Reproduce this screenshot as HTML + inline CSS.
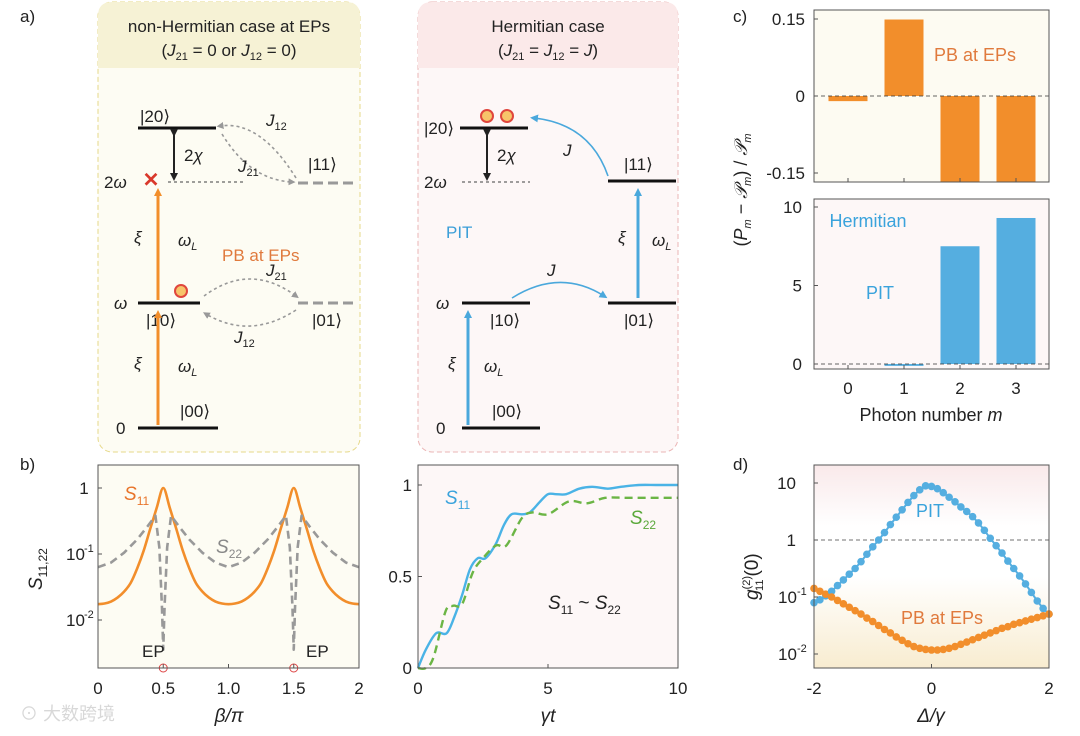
<!DOCTYPE html>
<html><head><meta charset="utf-8">
<style>
html,body{margin:0;padding:0;background:#fff;}
svg{display:block;font-family:"Liberation Sans","Noto Sans CJK SC",sans-serif;}
</style></head>
<body>
<svg id="fig" width="1080" height="736" viewBox="0 0 1080 736" xmlns="http://www.w3.org/2000/svg">
<defs>
<marker id="ahO" markerWidth="8" markerHeight="8" refX="4" refY="4" orient="auto" markerUnits="userSpaceOnUse"><path d="M0,0 L8,4 L0,8 z" fill="#f28e2b"/></marker>
<marker id="ahB" markerWidth="8" markerHeight="8" refX="4" refY="4" orient="auto" markerUnits="userSpaceOnUse"><path d="M0,0 L8,4 L0,8 z" fill="#4aa8dc"/></marker>
<marker id="ahK" markerWidth="8" markerHeight="8" refX="4" refY="4" orient="auto" markerUnits="userSpaceOnUse"><path d="M0,0 L8,4 L0,8 z" fill="#222"/></marker>
<marker id="ahG" markerWidth="7" markerHeight="7" refX="3.5" refY="3.5" orient="auto" markerUnits="userSpaceOnUse"><path d="M0,0 L7,3.5 L0,7 z" fill="#999"/></marker>
<linearGradient id="gd" x1="0" y1="0" x2="0" y2="1">
<stop offset="0" stop-color="#f9e9ea"/><stop offset="0.3" stop-color="#ffffff"/><stop offset="0.55" stop-color="#ffffff"/><stop offset="1" stop-color="#f8ecd0"/></linearGradient>
</defs>

<g>
<rect x="98" y="2" width="262" height="450" rx="14" fill="#fdfcf3" stroke="#e6d98a" stroke-dasharray="5,3"/>
<path d="M98,68 L98,16 Q98,2 112,2 L346,2 Q360,2 360,16 L360,68 Z" fill="#f6f2d5"/>
<rect x="418" y="2" width="260" height="450" rx="14" fill="#fdf7f7" stroke="#eab4b4" stroke-dasharray="5,3"/>
<path d="M418,68 L418,16 Q418,2 432,2 L664,2 Q678,2 678,16 L678,68 Z" fill="#fbe9e9"/>
<text x="20" y="22" font-size="17" fill="#222">a)</text>
<text x="229" y="32" font-size="17" text-anchor="middle" fill="#222">non-Hermitian case at EPs</text>
<text x="229" y="56" font-size="17" text-anchor="middle" fill="#222">(<tspan font-style="italic">J</tspan><tspan font-size="11" dy="4">21</tspan><tspan dy="-4"> = 0 or </tspan><tspan font-style="italic">J</tspan><tspan font-size="11" dy="4">12</tspan><tspan dy="-4"> = 0)</tspan></text>
<text x="548" y="32" font-size="17" text-anchor="middle" fill="#222">Hermitian case</text>
<text x="548" y="56" font-size="17" text-anchor="middle" fill="#222">(<tspan font-style="italic">J</tspan><tspan font-size="11" dy="4">21</tspan><tspan dy="-4"> = </tspan><tspan font-style="italic">J</tspan><tspan font-size="11" dy="4">12</tspan><tspan dy="-4"> = </tspan><tspan font-style="italic">J</tspan>)</text>

<g font-size="17" fill="#222">
<line x1="138" y1="128" x2="216" y2="128" stroke="#111" stroke-width="3"/>
<text x="140" y="122">|20⟩</text>
<line x1="168" y1="182" x2="246" y2="182" stroke="#666" stroke-width="1.2" stroke-dasharray="3,3"/>
<text x="104" y="188">2<tspan font-style="italic">ω</tspan></text>
<line x1="174" y1="133" x2="174" y2="177" stroke="#222" stroke-width="2" marker-start="url(#ahK)" marker-end="url(#ahK)"/>
<text x="184" y="161">2<tspan font-style="italic">χ</tspan></text>
<line x1="298" y1="183" x2="358" y2="183" stroke="#999" stroke-width="3" stroke-dasharray="10,5"/>
<text x="308" y="170">|11⟩</text>
<path d="M296,178 Q260,120 220,126" fill="none" stroke="#999" stroke-width="1.6" stroke-dasharray="3,3" marker-end="url(#ahG)"/>
<path d="M222,134 Q250,180 292,182" fill="none" stroke="#999" stroke-width="1.6" stroke-dasharray="3,3" marker-end="url(#ahG)"/>
<text x="266" y="126" font-style="italic">J<tspan font-size="11" dy="4" font-style="normal">12</tspan></text>
<text x="238" y="172" font-style="italic">J<tspan font-size="11" dy="4" font-style="normal">21</tspan></text>
<line x1="158" y1="300" x2="158" y2="192" stroke="#f28e2b" stroke-width="3" marker-end="url(#ahO)"/>
<text x="151" y="181" font-size="20" fill="#d9382b" text-anchor="middle" dominant-baseline="middle" font-weight="bold">✕</text>
<text x="134" y="243" font-style="italic">ξ</text>
<text x="178" y="246" font-style="italic">ω<tspan font-size="11" dy="4">L</tspan></text>
<text x="222" y="261" fill="#e07a3d">PB at EPs</text>
<line x1="138" y1="303" x2="200" y2="303" stroke="#111" stroke-width="3"/>
<text x="114" y="309" font-style="italic">ω</text>
<text x="146" y="326">|10⟩</text>
<circle cx="181" cy="291" r="6" fill="#f7c46a" stroke="#e0463d" stroke-width="2"/>
<line x1="298" y1="303" x2="358" y2="303" stroke="#999" stroke-width="3" stroke-dasharray="10,5"/>
<text x="312" y="326">|01⟩</text>
<path d="M204,296 Q250,262 296,296" fill="none" stroke="#999" stroke-width="1.6" stroke-dasharray="3,3" marker-end="url(#ahG)"/>
<path d="M296,310 Q250,340 206,314" fill="none" stroke="#999" stroke-width="1.6" stroke-dasharray="3,3" marker-end="url(#ahG)"/>
<text x="266" y="276" font-style="italic">J<tspan font-size="11" dy="4" font-style="normal">21</tspan></text>
<text x="234" y="343" font-style="italic">J<tspan font-size="11" dy="4" font-style="normal">12</tspan></text>
<line x1="158" y1="425" x2="158" y2="314" stroke="#f28e2b" stroke-width="3" marker-end="url(#ahO)"/>
<text x="134" y="369" font-style="italic">ξ</text>
<text x="178" y="372" font-style="italic">ω<tspan font-size="11" dy="4">L</tspan></text>
<line x1="138" y1="428" x2="218" y2="428" stroke="#111" stroke-width="3"/>
<text x="116" y="434">0</text>
<text x="180" y="417">|00⟩</text>
</g>

<g font-size="17" fill="#222">
<line x1="460" y1="128" x2="528" y2="128" stroke="#111" stroke-width="3"/>
<text x="424" y="134">|20⟩</text>
<circle cx="487" cy="116" r="6" fill="#f7c46a" stroke="#e0463d" stroke-width="2"/>
<circle cx="507" cy="116" r="6" fill="#f7c46a" stroke="#e0463d" stroke-width="2"/>
<line x1="462" y1="182" x2="530" y2="182" stroke="#666" stroke-width="1.2" stroke-dasharray="3,3"/>
<text x="424" y="188">2<tspan font-style="italic">ω</tspan></text>
<line x1="487" y1="133" x2="487" y2="177" stroke="#222" stroke-width="2" marker-start="url(#ahK)" marker-end="url(#ahK)"/>
<text x="497" y="161">2<tspan font-style="italic">χ</tspan></text>
<line x1="608" y1="181" x2="676" y2="181" stroke="#111" stroke-width="3"/>
<text x="624" y="170">|11⟩</text>
<path d="M608,176 Q590,124 534,118" fill="none" stroke="#4aa8dc" stroke-width="1.6" marker-end="url(#ahB)"/>
<text x="563" y="156" font-style="italic">J</text>
<line x1="638" y1="298" x2="638" y2="192" stroke="#4aa8dc" stroke-width="3" marker-end="url(#ahB)"/>
<text x="618" y="243" font-style="italic">ξ</text>
<text x="652" y="246" font-style="italic">ω<tspan font-size="11" dy="4">L</tspan></text>
<text x="446" y="238" fill="#3a9ed8">PIT</text>
<line x1="462" y1="303" x2="530" y2="303" stroke="#111" stroke-width="3"/>
<text x="436" y="309" font-style="italic">ω</text>
<text x="490" y="326">|10⟩</text>
<line x1="608" y1="303" x2="676" y2="303" stroke="#111" stroke-width="3"/>
<text x="624" y="326">|01⟩</text>
<path d="M512,298 Q560,268 604,296" fill="none" stroke="#4aa8dc" stroke-width="1.6" marker-end="url(#ahB)"/>
<text x="547" y="276" font-style="italic">J</text>
<line x1="468" y1="425" x2="468" y2="314" stroke="#4aa8dc" stroke-width="3" marker-end="url(#ahB)"/>
<text x="448" y="369" font-style="italic">ξ</text>
<text x="484" y="372" font-style="italic">ω<tspan font-size="11" dy="4">L</tspan></text>
<line x1="462" y1="428" x2="540" y2="428" stroke="#111" stroke-width="3"/>
<text x="436" y="434">0</text>
<text x="492" y="417">|00⟩</text>
</g>
</g>

<g id="charts"></g>
<text x="20" y="720" font-size="18" fill="#d8d8d8">⊙ 大数跨境</text>
</svg>
<script>
// ===== panel b left data (beta/pi, log10 values) =====
const bL_beta11 = [0,0.05,0.1,0.15,0.2,0.25,0.3,0.35,0.4,0.45,0.5,0.55,0.6,0.65,0.7,0.75,0.8,0.85,0.9,0.95,1.0,1.05,1.1,1.15,1.2,1.25,1.3,1.35,1.4,1.45,1.5,1.55,1.6,1.65,1.7,1.75,1.8,1.85,1.9,1.95,2.0];
const bL_s11Log = [-1.76,-1.75,-1.72,-1.66,-1.57,-1.44,-1.22,-0.95,-0.62,-0.3,0,-0.3,-0.62,-0.95,-1.22,-1.44,-1.57,-1.66,-1.72,-1.75,-1.76,-1.75,-1.72,-1.66,-1.57,-1.44,-1.22,-0.95,-0.62,-0.3,0,-0.3,-0.62,-0.95,-1.22,-1.44,-1.57,-1.66,-1.72,-1.75,-1.76];
const bL_beta22 = [0,0.1,0.2,0.3,0.38,0.44,0.47,0.49,0.5,0.51,0.53,0.56,0.62,0.7,0.8,0.9,1.0,1.1,1.2,1.3,1.38,1.44,1.47,1.49,1.5,1.51,1.53,1.56,1.62,1.7,1.8,1.9,2.0];
const bL_s22Log = [-1.2,-1.13,-0.98,-0.78,-0.58,-0.42,-0.9,-1.8,-2.45,-1.8,-0.9,-0.42,-0.58,-0.78,-0.98,-1.13,-1.2,-1.13,-0.98,-0.78,-0.58,-0.42,-0.9,-1.8,-2.45,-1.8,-0.9,-0.42,-0.58,-0.78,-0.98,-1.13,-1.2];
const bL_xTicks = [0,0.5,1,1.5,2];
const bL_xTickLabels = ["0","0.5","1.0","1.5","2"];
const bL_yTicksLog = [0,-1,-2];
const bL_yTickLabels = ["1","10","10"];
const bL_epBeta = [0.5,1.5];
// ===== panel b right data =====
const bR_t11 = [0,0.3,0.7,1.1,1.4,1.7,2.0,2.3,2.6,3.0,3.3,3.6,4.0,4.3,4.7,5.0,5.3,5.7,6.2,6.7,7.3,7.8,8.5,9.2,10];
const bR_s11 = [0,0.1,0.19,0.19,0.28,0.4,0.54,0.6,0.6,0.68,0.78,0.84,0.84,0.85,0.91,0.95,0.95,0.95,0.98,0.99,0.98,0.99,1.0,1.0,1.0];
const bR_t22 = [0,0.3,0.6,1.06,1.35,1.7,2.1,2.5,3.0,3.4,4.0,4.4,5.0,5.8,6.5,7.2,8.0,9.0,10];
const bR_s22 = [0,0.0,0.06,0.31,0.34,0.35,0.52,0.6,0.67,0.67,0.82,0.85,0.84,0.91,0.9,0.93,0.93,0.93,0.93];
const bR_xTicks = [0,5,10];
const bR_yTicks = [0,0.5,1];
const bR_yTickLabels = ["0","0.5","1"];
// ===== panel c data =====
const c_m = [0,1,2,3];
const c_pbValues = [-0.01,0.149,-0.17,-0.17];
const c_pitValues = [0,-0.12,7.5,9.3];
const c_topTicks = [0.15,0,-0.15];
const c_topTickLabels = ["0.15","0","-0.15"];
const c_botTicks = [10,5,0];
// ===== panel d data (log10 g2) =====
const d_delta = [-2,-1.9,-1.8,-1.7,-1.6,-1.5,-1.4,-1.3,-1.2,-1.1,-1.0,-0.9,-0.8,-0.7,-0.6,-0.5,-0.4,-0.3,-0.2,-0.1,0,0.1,0.2,0.3,0.4,0.5,0.6,0.7,0.8,0.9,1.0,1.1,1.2,1.3,1.4,1.5,1.6,1.7,1.8,1.9,2.0];
const d_pitLog = [-1.1,-1.05,-0.98,-0.9,-0.8,-0.7,-0.6,-0.5,-0.38,-0.25,-0.12,0.0,0.13,0.27,0.4,0.53,0.66,0.78,0.88,0.95,0.94,0.9,0.83,0.75,0.67,0.58,0.5,0.41,0.3,0.17,0.03,-0.1,-0.23,-0.37,-0.5,-0.63,-0.77,-0.92,-1.07,-1.2,-1.3];
const d_pbLog = [-0.85,-0.9,-0.95,-1.0,-1.06,-1.12,-1.18,-1.24,-1.3,-1.37,-1.43,-1.5,-1.57,-1.63,-1.7,-1.76,-1.82,-1.87,-1.9,-1.92,-1.93,-1.93,-1.92,-1.9,-1.87,-1.83,-1.79,-1.75,-1.71,-1.67,-1.63,-1.59,-1.55,-1.52,-1.48,-1.45,-1.42,-1.39,-1.36,-1.33,-1.3];
const d_xTicks = [-2,0,2];
const d_yTicksLog = [1,0,-1,-2];

const NS = "http://www.w3.org/2000/svg";
const root = document.getElementById('charts');
function el(tag, attrs, parent){const e=document.createElementNS(NS,tag);for(const k in attrs)e.setAttribute(k,attrs[k]);(parent||root).appendChild(e);return e;}
function txt(x,y,s,attrs,parent){const e=el('text',Object.assign({x:x,y:y,'font-size':17,fill:'#222'},attrs||{}),parent);e.textContent=s;return e;}
function smooth(pts){let d='M'+pts[0][0]+','+pts[0][1];for(let i=0;i<pts.length-1;i++){const p0=pts[Math.max(0,i-1)],p1=pts[i],p2=pts[i+1],p3=pts[Math.min(pts.length-1,i+2)];const c1=[p1[0]+(p2[0]-p0[0])/6,p1[1]+(p2[1]-p0[1])/6],c2=[p2[0]-(p3[0]-p1[0])/6,p2[1]-(p3[1]-p1[1])/6];d+=' C'+c1[0]+','+c1[1]+' '+c2[0]+','+c2[1]+' '+p2[0]+','+p2[1];}return d;}
function frame(x0,y0,x1,y1,g){el('rect',{x:x0,y:y0,width:x1-x0,height:y1-y0,fill:'none',stroke:'#555','stroke-width':1},g);}

// ---------- panel b left ----------
{
const X0=98,X1=359,Y0=465,Y1=668;
const sx=v=>X0+(v-0)/(2-0)*(X1-X0);
const sy=l=>488-66*l;
const g=el('g',{});


el('rect',{x:X0,y:Y0,width:X1-X0,height:Y1-Y0,fill:'#fdfcf3'},g);
txt(20,470,'b)',{},g);
const p11=el('path',{d:smooth(bL_beta11.map((b,i)=>[sx(b),sy(bL_s11Log[i])])),fill:'none',stroke:'#f28e2b','stroke-width':2.6},g);


const p22=el('path',{d:'M'+bL_beta22.map((b,i)=>sx(b)+','+sy(bL_s22Log[i])).join(' L'),fill:'none',stroke:'#999','stroke-width':2.6,'stroke-dasharray':'8,5','stroke-linejoin':'round'},g);


bL_epBeta.forEach(b=>{const c=el('circle',{cx:sx(b),cy:Y1,r:4,fill:'none',stroke:'#d44','stroke-width':1},g);

});
frame(X0,Y0,X1,Y1,g);
bL_xTicks.forEach((v,i)=>{el('line',{x1:sx(v),y1:Y1,x2:sx(v),y2:Y1-4,stroke:'#555'},g);const t=txt(sx(v),694,bL_xTickLabels[i],{'text-anchor':'middle'},g);

});
bL_yTicksLog.forEach((l,i)=>{el('line',{x1:X0,y1:sy(l),x2:X0+4,y2:sy(l),stroke:'#555'},g);const t=txt(i==0?84:66,sy(l)+6,bL_yTickLabels[i],{'text-anchor':i==0?'middle':'start'},g);


if(l<0){txt(84,sy(l)-2,String(l),{'font-size':11},g);}});
txt(142,657,'EP',{},g);txt(306,657,'EP',{},g);
const a=txt(124,500,'S',{'font-style':'italic',fill:'#e8742a','font-size':19},g);const as=el('tspan',{'font-size':12,dy:5,'font-style':'normal'},a);as.textContent='11';
const b=txt(216,553,'S',{'font-style':'italic',fill:'#888','font-size':19},g);const bs=el('tspan',{'font-size':12,dy:5,'font-style':'normal'},b);bs.textContent='22';
const yl=txt(0,0,'S',{'font-style':'italic','font-size':19,transform:'translate(42,590) rotate(-90)'},g);const yls=el('tspan',{'font-size':12,dy:5,'font-style':'normal'},yl);yls.textContent='11,22';


const xl=txt(229,722,'β/π',{'text-anchor':'middle','font-style':'italic','font-size':19},g);


}
// ---------- panel b right ----------
{
const X0=418,X1=678,Y0=465,Y1=668;
const sx=v=>X0+v/10*(X1-X0);
const sy=v=>668-183*v;
const g=el('g',{});


el('rect',{x:X0,y:Y0,width:X1-X0,height:Y1-Y0,fill:'#fdf7f7'},g);
const p1=el('path',{d:smooth(bR_t11.map((t,i)=>[sx(t),sy(bR_s11[i])])),fill:'none',stroke:'#4ab3e6','stroke-width':2.4},g);


const p2=el('path',{d:smooth(bR_t22.map((t,i)=>[sx(t),sy(bR_s22[i])])),fill:'none',stroke:'#6bb545','stroke-width':2.4,'stroke-dasharray':'8,5'},g);


frame(X0,Y0,X1,Y1,g);
bR_xTicks.forEach(v=>{el('line',{x1:sx(v),y1:Y1,x2:sx(v),y2:Y1-4,stroke:'#555'},g);const t=txt(sx(v),694,String(v),{'text-anchor':'middle'},g);

});
bR_yTicks.forEach((v,i)=>{el('line',{x1:X0,y1:sy(v),x2:X0+4,y2:sy(v),stroke:'#555'},g);const t=txt(X0-6,sy(v)+6,bR_yTickLabels[i],{'text-anchor':'end'},g);

});
const a=txt(445,504,'S',{'font-style':'italic',fill:'#3aa3dc','font-size':19},g);const as=el('tspan',{'font-size':12,dy:5,'font-style':'normal'},a);as.textContent='11';
const b=txt(630,524,'S',{'font-style':'italic',fill:'#5aa83a','font-size':19},g);const bs=el('tspan',{'font-size':12,dy:5,'font-style':'normal'},b);bs.textContent='22';
const c=txt(548,609,'S',{'font-style':'italic','font-size':19},g);const cs=el('tspan',{'font-size':12,dy:5,'font-style':'normal'},c);cs.textContent='11';const c2=el('tspan',{dy:-5,'font-style':'normal'},c);c2.textContent=' ~ ';const c3=el('tspan',{},c);c3.textContent='S';const c4=el('tspan',{'font-size':12,dy:5,'font-style':'normal'},c);c4.textContent='22';
const xl=txt(548,722,'γt',{'text-anchor':'middle','font-style':'italic','font-size':19},g);


}
// ---------- panel c ----------
{
const X0=814,X1=1049;
const sx=m=>848+m*56;
const bw=39;
const g=el('g',{});


txt(733,22,'c)',{},g);
const T0=10,T1=182;const syT=v=>96-v*77/0.15;
el('rect',{x:X0,y:T0,width:X1-X0,height:T1-T0,fill:'#fdfbf2'},g);
c_m.forEach((m,i)=>{const y0=syT(0),y1=Math.max(T0,Math.min(T1,syT(c_pbValues[i])));const r=el('rect',{x:sx(m)-bw/2,y:Math.min(y0,y1),width:bw,height:Math.abs(y1-y0),fill:'#f28e2b'},g);

});
el('line',{x1:X0,y1:syT(0),x2:X1,y2:syT(0),stroke:'#333','stroke-dasharray':'4,3','stroke-width':0.8},g);
frame(X0,T0,X1,T1,g);
c_topTicks.forEach((v,i)=>{el('line',{x1:X0,y1:syT(v),x2:X0+4,y2:syT(v),stroke:'#555'},g);txt(X0-9,syT(v)+6,c_topTickLabels[i],{'text-anchor':'end'},g);});
c_m.forEach(m=>el('line',{x1:sx(m),y1:T1,x2:sx(m),y2:T1-4,stroke:'#555'},g));
txt(975,61,'PB at EPs',{'text-anchor':'middle',fill:'#e07a3d','font-size':18},g);
const B0=199,B1=369;const syB=v=>364-v*15.7;
el('rect',{x:X0,y:B0,width:X1-X0,height:B1-B0,fill:'#fdf7f7'},g);
c_m.forEach((m,i)=>{const y0=syB(0),y1=syB(c_pitValues[i]);const r=el('rect',{x:sx(m)-bw/2,y:Math.min(y0,y1),width:bw,height:Math.max(Math.abs(y1-y0),0.01),fill:'#55aee0'},g);

});
el('line',{x1:X0,y1:syB(0),x2:X1,y2:syB(0),stroke:'#333','stroke-dasharray':'4,3','stroke-width':0.8},g);
frame(X0,B0,X1,B1,g);
c_botTicks.forEach(v=>{el('line',{x1:X0,y1:syB(v),x2:X0+4,y2:syB(v),stroke:'#555'},g);txt(X0-12,syB(v)+6,String(v),{'text-anchor':'end'},g);});
c_m.forEach(m=>{el('line',{x1:sx(m),y1:B1,x2:sx(m),y2:B1-4,stroke:'#555'},g);const t=txt(sx(m),394,String(m),{'text-anchor':'middle'},g);

});
txt(868,227,'Hermitian',{'text-anchor':'middle',fill:'#3aa3dc','font-size':18},g);
txt(880,299,'PIT',{'text-anchor':'middle',fill:'#3aa3dc','font-size':18},g);
const xl=txt(931,421,'Photon number ',{'text-anchor':'middle','font-size':18},g);const xm=el('tspan',{'font-style':'italic'},xl);xm.textContent='m';


const yl=txt(0,0,'(',{'text-anchor':'middle','font-size':18,transform:'translate(747,190) rotate(-90)'},g);


[['P','i'],['m','s'],[' − ',''],['𝒫','i'],['m','s'],[') / ',''],['𝒫','i'],['m','s']].forEach(([s,k],i,arr)=>{const a={};if(k=='i')a['font-style']='italic';if(k=='s'){a['font-size']=11;a.dy=4;a['font-style']='italic';}if(i>0&&arr[i-1][1]=='s')a.dy=-4;const t=el('tspan',a,yl);t.textContent=s;});
}
// ---------- panel d ----------
{
const X0=814,X1=1049,Y0=465,Y1=668;
const sx=v=>X0+(v+2)/4*(X1-X0);
const sy=l=>540-57*l;
const g=el('g',{});


txt(733,470,'d)',{},g);
el('rect',{x:X0,y:Y0,width:X1-X0,height:Y1-Y0,fill:'url(#gd)'},g);
el('line',{x1:X0,y1:sy(0),x2:X1,y2:sy(0),stroke:'#444','stroke-dasharray':'4,3','stroke-width':0.8},g);
const lp=el('path',{d:'M'+d_delta.map((x,i)=>sx(x)+','+sy(d_pitLog[i])).join(' L'),fill:'none',stroke:'#55aee0','stroke-width':2},g);


const lo=el('path',{d:'M'+d_delta.map((x,i)=>sx(x)+','+sy(d_pbLog[i])).join(' L'),fill:'none',stroke:'#f28e2b','stroke-width':2},g);


d_delta.forEach((x,i)=>{const c1=el('circle',{cx:sx(x),cy:sy(d_pitLog[i]),r:3.8,fill:'#55aee0'},g);


const c2=el('circle',{cx:sx(x),cy:sy(d_pbLog[i]),r:3.8,fill:'#f28e2b'},g);

});
frame(X0,Y0,X1,Y1,g);
d_xTicks.forEach(v=>{el('line',{x1:sx(v),y1:Y1,x2:sx(v),y2:Y1-4,stroke:'#555'},g);const t=txt(sx(v),694,String(v),{'text-anchor':'middle'},g);

});
d_yTicksLog.forEach(l=>{el('line',{x1:X0,y1:sy(l),x2:X0+4,y2:sy(l),stroke:'#555'},g);
if(l>=0){txt(X0-18,sy(l)+6,l==1?'10':'1',{'text-anchor':'end'},g);}else{txt(X0-36,sy(l)+6,'10',{},g);txt(X0-17,sy(l)-2,String(l),{'font-size':11},g);}});
txt(930,517,'PIT',{'text-anchor':'middle',fill:'#3aa3dc','font-size':18},g);
txt(942,624,'PB at EPs',{'text-anchor':'middle',fill:'#e07a3d','font-size':18},g);
const xl=txt(931,722,'Δ/γ',{'text-anchor':'middle','font-style':'italic','font-size':19},g);


const yl=txt(0,0,'g',{'font-style':'italic','font-size':19,transform:'translate(758,600) rotate(-90)'},g);


const s1=el('tspan',{'font-size':11,dy:-8,'font-style':'normal'},yl);s1.textContent='(2)';
const s2=el('tspan',{'font-size':11,dx:-15,dy:13,'font-style':'normal'},yl);s2.textContent='11';
const s3=el('tspan',{dy:-5,dx:3,'font-style':'normal'},yl);s3.textContent='(0)';
}
</script>
</body></html>
